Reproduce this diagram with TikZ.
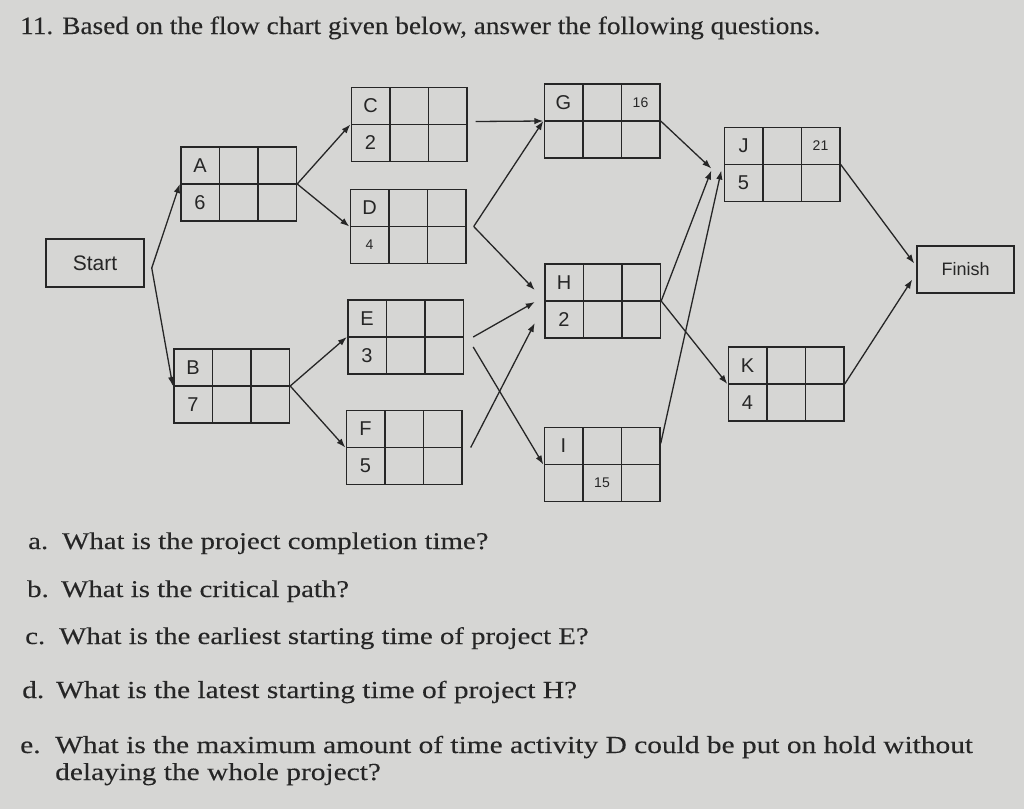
\documentclass[tikz,border=0pt]{standalone}
\usepackage{fontspec}
\setmainfont[FakeStretch=1.2,FakeBold=0.15]{Liberation Serif}
\newfontfamily\titlefont[FakeStretch=1.09,FakeBold=0.15]{Liberation Serif}
\newfontfamily\boxfont{Liberation Sans}
\usetikzlibrary{matrix,arrows.meta}
\definecolor{paper}{RGB}{214,214,212}
\definecolor{ink}{RGB}{38,38,38}
\tikzset{
    actbox/.style={matrix of nodes,nodes in empty cells,inner sep=0pt,column sep=-1.5pt,row sep=-1.5pt,
        nodes={draw=ink,line width=1.5pt,anchor=center,minimum width=38.5pt,minimum height=37pt,inner sep=0pt,text=ink,font=\boxfont\fontsize{20}{20}\selectfont}},
    endbox/.style={draw=ink,line width=1.5pt,text=ink},
    numsmall/.style={font=\boxfont\fontsize{14}{14}\selectfont},
    arr/.style={draw=ink,line width=1.3pt,-{Latex[length=9pt,width=6.5pt]}},
    qtext/.style={anchor=base west,inner sep=0pt,text=ink,font=\fontsize{24}{28}\selectfont}
}
\begin{document}
\begin{tikzpicture}[x=1pt,y=-1pt]
    \fill[paper] (0,0) rectangle (1024,809);
    \useasboundingbox (0,0) rectangle (1024,809);
    \node[qtext,font=\titlefont\fontsize{25}{30}\selectfont] (title) at (20,34) {11. Based on the flow chart given below, answer the following questions.};
    \node[endbox,minimum width=98pt,minimum height=48pt,font=\boxfont\fontsize{21}{21}\selectfont] (Start) at (95,263) {Start};
    \node[endbox,minimum width=97pt,minimum height=47pt,font=\boxfont\fontsize{18}{18}\selectfont] (Finish) at (965.5,269.5) {Finish};
    \matrix (A) [actbox] at (238.5,184) {A & & \\ 6 & & \\};
    \matrix (B) [actbox] at (231.5,386) {B & & \\ 7 & & \\};
    \matrix (C) [actbox] at (409,124.5) {C & & \\ 2 & & \\};
    \matrix (D) [actbox] at (408,226.5) {D & & \\ |[numsmall]| 4 & & \\};
    \matrix (E) [actbox] at (405.5,337) {E & & \\ 3 & & \\};
    \matrix (F) [actbox] at (404,447.5) {F & & \\ 5 & & \\};
    \matrix (G) [actbox] at (602,121) {G & & |[numsmall]| 16 \\ & & \\};
    \matrix (H) [actbox] at (602.5,301) {H & & \\ 2 & & \\};
    \matrix (I) [actbox] at (602,464.5) {I & & \\ & |[numsmall]| 15 & \\};
    \matrix (J) [actbox] at (782,164.5) {J & & |[numsmall]| 21 \\ 5 & & \\};
    \matrix (K) [actbox] at (786,384) {K & & \\ 4 & & \\};
    \draw[arr] ([xshift=7pt,yshift=-5pt]Start.east) -- (A.west);
    \draw[arr] ([xshift=7pt,yshift=-5pt]Start.east) -- (B.west);
    \draw[arr] (A.east) -- (C.west);
    \draw[arr] (A.east) -- (D.west);
    \draw[arr] (B.east) -- (E.west);
    \draw[arr] (B.east) -- (F.west);
    \draw[arr] ([xshift=8pt,yshift=3pt]C.east) -- (G.west);
    \draw[arr] ([xshift=7pt]D.east) -- (G.west);
    \draw[arr] ([xshift=7pt]D.east) -- ([xshift=-9pt,yshift=11pt]H.west);
    \draw[arr] ([xshift=9pt]E.east) -- ([xshift=-9pt,yshift=-1pt]H.west);
    \draw[arr] ([xshift=9pt,yshift=-10pt]E.east) -- (I.west);
    \draw[arr] ([xshift=8pt]F.east) -- ([xshift=-9pt,yshift=-22pt]H.west);
    \draw[arr] (G.east) -- ([xshift=-12pt,yshift=-4pt]J.west);
    \draw[arr] (H.east) -- ([xshift=-12pt,yshift=-6pt]J.west);
    \draw[arr] ([yshift=21pt]I.east) -- ([xshift=-2pt,yshift=-6pt]J.west);
    \draw[arr] (H.east) -- (K.west);
    \draw[arr] (J.east) -- ([xshift=-2pt,yshift=6pt]Finish.west);
    \draw[arr] (K.east) -- ([xshift=-4pt,yshift=-10pt]Finish.west);
    \node[qtext] (qa) at (28,549) {a.};
    \node[qtext] (qatext) at (62,549) {What is the project completion time?};
    \node[qtext] (qb) at (27,597) {b.};
    \node[qtext] (qbtext) at (61,597) {What is the critical path?};
    \node[qtext] (qc) at (25,644) {c.};
    \node[qtext] (qctext) at (59,644) {What is the earliest starting time of project E?};
    \node[qtext,font=\fontsize{24.5}{28}\selectfont] (qd) at (22,698) {d.};
    \node[qtext,font=\fontsize{24.5}{28}\selectfont] (qdtext) at (56,698) {What is the latest starting time of project H?};
    \node[qtext,font=\fontsize{24.5}{28}\selectfont] (qe) at (20,753) {e.};
    \node[qtext,font=\fontsize{24.5}{28}\selectfont] (qetext) at (55,753) {What is the maximum amount of time activity D could be put on hold without};
    \node[qtext,font=\fontsize{24.5}{28}\selectfont] (qetext2) at (55,780) {delaying the whole project?};
\end{tikzpicture}
\end{document}
